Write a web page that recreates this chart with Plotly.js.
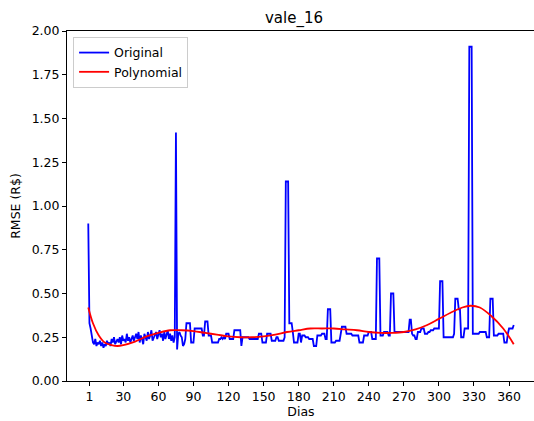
<!DOCTYPE html>
<html>
<head>
<meta charset="utf-8">
<script src="https://cdn.plot.ly/plotly-3.0.1.min.js"></script>
<style>
html, body { margin:0; padding:0; overflow:hidden; background:#fff; }
#chart { width:545px; height:421px; }
</style>
</head>
<body>
<div id="chart"></div>
<script>
// Original series: one value per day, index = day (0..364)
const originalValues = [
0.90,0.33,0.30,0.25,0.22,0.21,0.24,0.20,0.22,0.21,0.23,
0.20,0.22,0.19,0.21,0.20,0.23,0.21,0.22,0.20,0.24,
0.22,0.25,0.21,0.23,0.24,0.22,0.25,0.21,0.26,0.23,
0.24,0.22,0.27,0.23,0.25,0.22,0.24,0.26,0.23,0.25,
0.27,0.24,0.28,0.22,0.26,0.24,0.21,0.27,0.25,0.23,
0.28,0.24,0.26,0.29,0.23,0.25,0.27,0.28,0.24,0.26,
0.29,0.25,0.27,0.23,0.28,0.24,0.26,0.29,0.24,0.27,
0.23,0.26,0.22,0.25,1.42,0.18,0.27,0.28,0.26,0.25,
0.20,0.21,0.24,0.33,0.33,0.33,0.33,0.22,0.22,0.22,
0.30,0.30,0.30,0.30,0.30,0.30,0.30,0.26,0.26,0.34,
0.34,0.34,0.26,0.26,0.26,0.22,0.22,0.22,0.22,0.22,
0.22,0.24,0.24,0.25,0.24,0.25,0.24,0.27,0.27,0.27,
0.24,0.24,0.24,0.24,0.29,0.29,0.29,0.29,0.29,0.29,
0.20,0.25,0.25,0.25,0.25,0.25,0.25,0.24,0.24,0.24,
0.24,0.24,0.24,0.24,0.24,0.27,0.27,0.27,0.22,0.22,
0.22,0.22,0.27,0.27,0.27,0.27,0.23,0.23,0.23,0.23,
0.25,0.25,0.23,0.23,0.23,0.23,0.23,0.25,1.14,1.14,
1.14,0.33,0.33,0.33,0.28,0.22,0.22,0.22,0.22,0.27,
0.27,0.22,0.26,0.26,0.26,0.25,0.25,0.25,0.24,0.24,
0.24,0.24,0.20,0.20,0.20,0.26,0.26,0.26,0.26,0.27,
0.27,0.27,0.24,0.24,0.41,0.41,0.41,0.22,0.22,0.22,
0.22,0.23,0.23,0.23,0.23,0.27,0.31,0.31,0.31,0.31,
0.27,0.27,0.27,0.27,0.27,0.26,0.26,0.26,0.26,0.26,
0.26,0.22,0.22,0.22,0.22,0.26,0.26,0.26,0.26,0.28,
0.28,0.28,0.24,0.24,0.24,0.24,0.70,0.70,0.70,0.26,
0.26,0.26,0.28,0.28,0.28,0.28,0.26,0.26,0.50,0.50,
0.50,0.28,0.28,0.28,0.28,0.28,0.28,0.28,0.28,0.28,
0.28,0.28,0.28,0.28,0.35,0.35,0.27,0.26,0.26,0.24,
0.24,0.28,0.28,0.28,0.30,0.30,0.30,0.27,0.27,0.27,
0.28,0.28,0.29,0.29,0.29,0.30,0.30,0.30,0.30,0.30,
0.57,0.57,0.57,0.25,0.25,0.25,0.25,0.25,0.25,0.25,
0.25,0.25,0.27,0.47,0.47,0.47,0.41,0.41,0.25,0.25,
0.25,0.30,0.30,0.30,0.30,1.91,1.91,1.91,0.27,0.27,
0.27,0.27,0.27,0.27,0.28,0.28,0.28,0.28,0.28,0.28,
0.25,0.25,0.25,0.47,0.47,0.47,0.26,0.26,0.26,0.26,
0.27,0.27,0.27,0.27,0.27,0.22,0.22,0.22,0.27,0.30,
0.30,0.30,0.30,0.32
];
const originalDays = originalValues.map((_, i) => i);

// Polynomial fit, read at sample days
const polyDays   = [0, 4, 9, 14, 20, 25, 30, 40, 50, 60, 70, 80, 90, 100, 110, 120, 130, 140, 150, 160, 170, 180, 190, 200, 210, 220, 230, 240, 250, 260, 270, 280, 290, 300, 310, 320, 327, 335, 345, 355, 364];
const polyValues = [0.42,0.33,0.26,0.22,0.205,0.20,0.205,0.225,0.255,0.275,0.29,0.29,0.285,0.275,0.265,0.255,0.25,0.25,0.255,0.265,0.28,0.29,0.30,0.30,0.30,0.295,0.29,0.28,0.275,0.275,0.28,0.295,0.32,0.355,0.39,0.42,0.43,0.42,0.37,0.30,0.21];

const xTickVals = [1, 30, 60, 90, 120, 150, 180, 210, 240, 270, 300, 330, 360];
const yTickVals = [0, 0.25, 0.5, 0.75, 1.0, 1.25, 1.5, 1.75, 2.0];

const font = {family: 'DejaVu Sans, sans-serif', size: 12.5, color: '#000'};

const traces = [
  {x: originalDays, y: originalValues, type: 'scatter', mode: 'lines', name: 'Original',
   line: {color: '#0000ff', width: 1.8}},
  {x: polyDays, y: polyValues, type: 'scatter', mode: 'lines', name: 'Polynomial',
   line: {color: '#ff0000', width: 1.8, shape: 'spline', smoothing: 1}}
];

const layout = {
  width: 545, height: 421,
  margin: {l: 67, r: 10, t: 31, b: 40},
  paper_bgcolor: '#fff', plot_bgcolor: '#fff',
  font: font,
  showlegend: true,
  title: {text: 'vale_16', font: {family: 'DejaVu Sans, sans-serif', size: 15, color: '#000'},
          x: 0.485, xref: 'paper', xanchor: 'center', y: 0.957, yref: 'container', yanchor: 'middle'},
  xaxis: {
    range: [-18.2, 382.2], tickvals: xTickVals, ticktext: xTickVals.map(String),
    showgrid: false, zeroline: false, showline: true, mirror: true, linecolor: '#000', linewidth: 1,
    ticks: 'outside', ticklen: 4, tickwidth: 1, tickcolor: '#000',
    tickfont: font,
    title: {text: 'Dias', font: font, standoff: 4}
  },
  yaxis: {
    range: [0, 2], tickvals: yTickVals, tickformat: '.2f',
    showgrid: false, zeroline: false, showline: true, mirror: true, linecolor: '#000', linewidth: 1,
    ticks: 'outside', ticklen: 4, tickwidth: 1, tickcolor: '#000',
    tickfont: font,
    title: {text: 'RMSE (R$)', font: font, standoff: 8}
  },
  legend: {
    x: 0.013, y: 0.983, xanchor: 'left', yanchor: 'top',
    bgcolor: 'rgba(255,255,255,0.8)', bordercolor: '#cccccc', borderwidth: 1,
    font: font, tracegroupgap: 0
  }
};

Plotly.newPlot('chart', traces, layout, {displayModeBar: false, staticPlot: true});
</script>
</body>
</html>
